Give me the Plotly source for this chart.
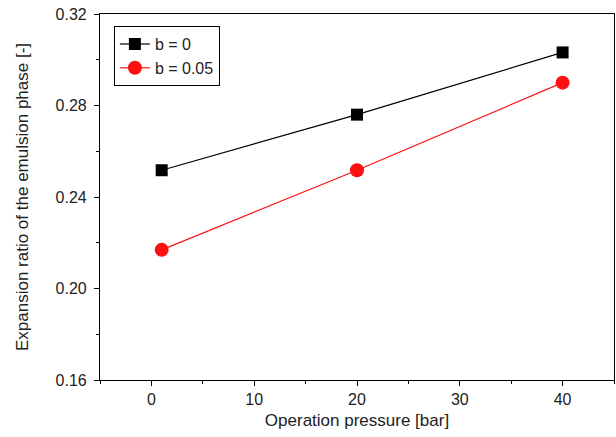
import plotly.graph_objects as go

pressure = [1, 20, 40]
ratio_b0 = [0.2517, 0.2760, 0.3032]
ratio_b005 = [0.2169, 0.2517, 0.2900]
series_names = ["b = 0", "b = 0.05"]

fig = go.Figure()
fig.add_trace(go.Scatter(x=pressure, y=ratio_b0, mode="lines+markers", name=series_names[0],
                         line=dict(color="black", width=1.2),
                         marker=dict(symbol="square", size=12, color="black")))
fig.add_trace(go.Scatter(x=pressure, y=ratio_b005, mode="lines+markers", name=series_names[1],
                         line=dict(color="#ff1010", width=1.2),
                         marker=dict(symbol="circle", size=14, color="#ff1010")))

fam = "Liberation Sans, Arial, sans-serif"
tickf = dict(family=fam, size=16, color="#222")
titlef = dict(family=fam, size=17, color="#222")
fig.update_layout(
    width=616, height=437,
    margin=dict(l=100, r=2, t=14, b=57),
    paper_bgcolor="white", plot_bgcolor="white",
    font=dict(family=fam, size=16, color="#222"),
    showlegend=True,
    legend=dict(x=0.027, y=0.967, xanchor="left", yanchor="top",
                bordercolor="black", borderwidth=1, bgcolor="white",
                font=dict(family=fam, size=16, color="#222"),
                tracegroupgap=0, itemwidth=30),
)
fig.update_xaxes(range=[-5, 45], tickvals=[0, 10, 20, 30, 40], ticks="outside", ticklen=5,
                 tickcolor="black", showline=True, linecolor="black", linewidth=1.2, mirror=True,
                 showgrid=False, zeroline=False, tickfont=tickf,
                 minor=dict(ticks="outside", ticklen=3, dtick=5, tick0=0, tickcolor="black", showgrid=False),
                 title=dict(text="Operation pressure [bar]", standoff=6, font=titlef))
fig.update_yaxes(range=[0.16, 0.32], tickvals=[0.16, 0.20, 0.24, 0.28, 0.32],
                 ticktext=["0.16", "0.20", "0.24", "0.28", "0.32"], ticks="outside", ticklen=5,
                 ticklabelstandoff=4,
                 tickcolor="black", showline=True, linecolor="black", linewidth=1.2, mirror=True,
                 showgrid=False, zeroline=False, tickfont=tickf,
                 minor=dict(ticks="outside", ticklen=3, dtick=0.02, tick0=0.16, tickcolor="black", showgrid=False),
                 title=dict(text="Expansion ratio of the emulsion phase [-]", standoff=22, font=titlef))

fig.write_html("out.html")
